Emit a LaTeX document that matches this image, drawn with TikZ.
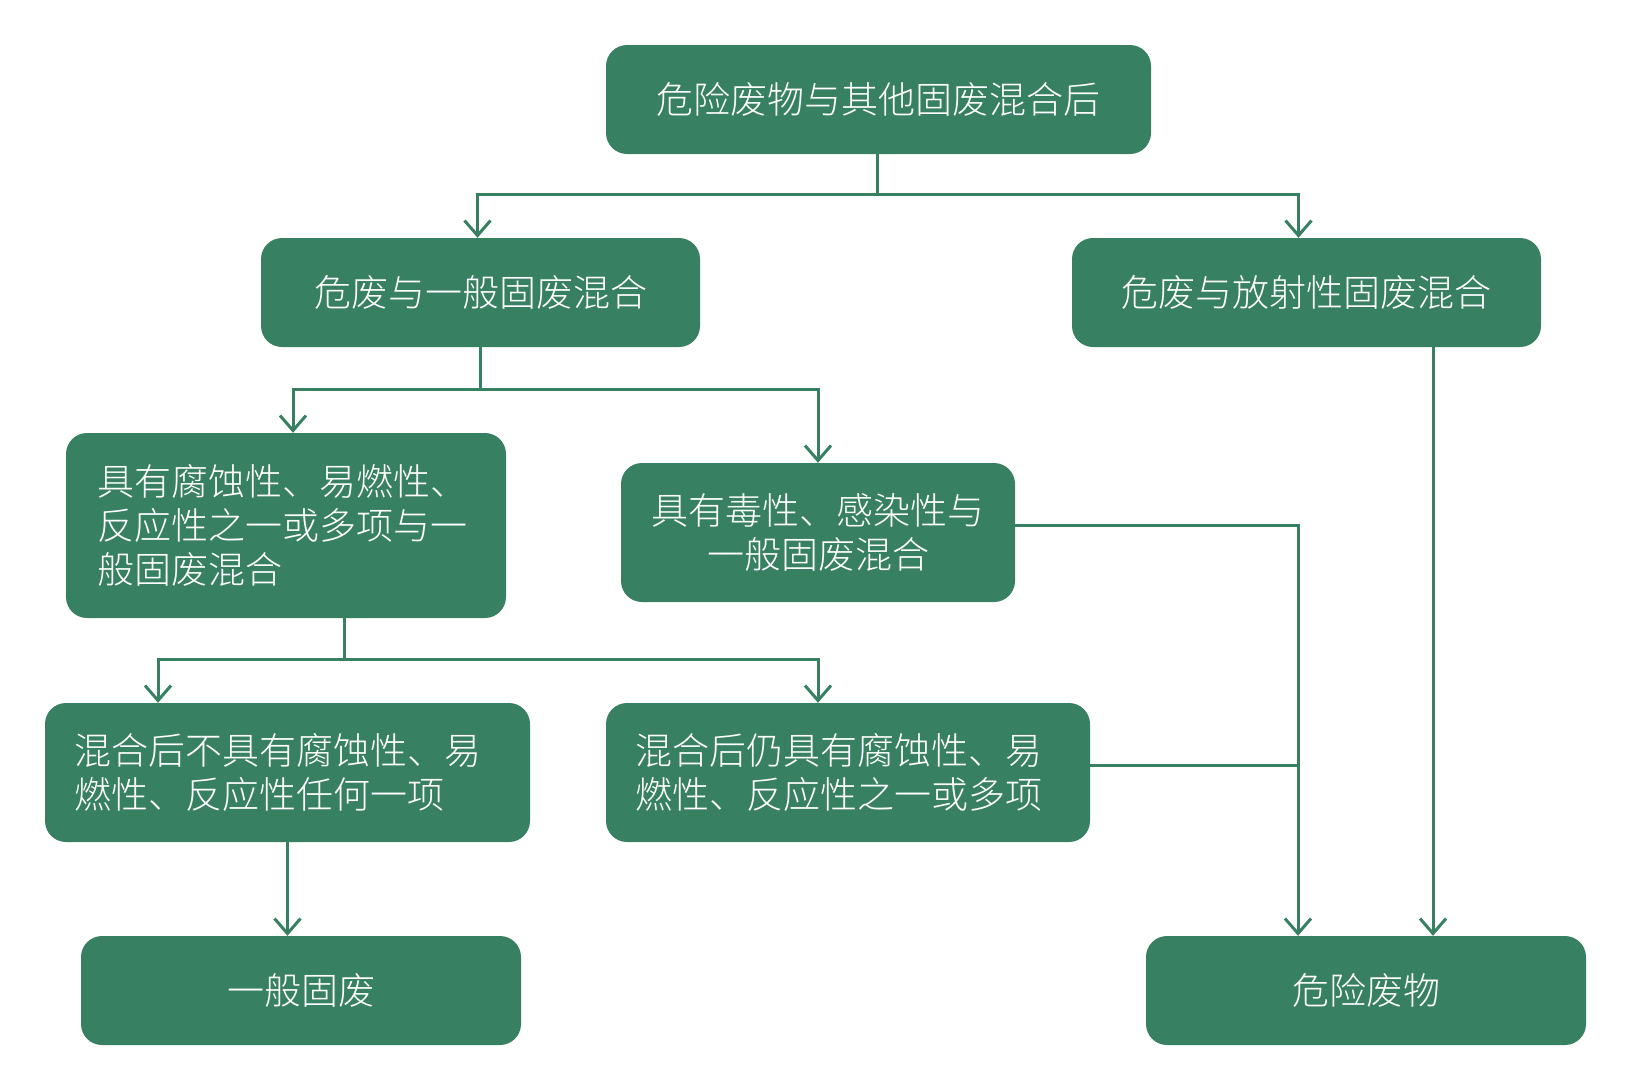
\documentclass[tikz,border=0pt]{standalone}
\usepackage{fontspec}
\setmainfont{Noto Sans CJK SC}[UprightFont={* Light}]
\usetikzlibrary{arrows.meta,calc}
\definecolor{boxgreen}{RGB}{56,128,98}
\tikzset{
  box/.style={fill=boxgreen, rounded corners=21pt, text=white, inner ysep=0pt,
    font=\fontsize{37pt}{44pt}\selectfont, anchor=center},
  cbox/.style={box, align=center},
  lbox/.style={box, align=left},
  conn/.style={draw=boxgreen, line width=3pt},
  arr/.style={conn, -{Straight Barb[length=15pt,width=26pt,line width=3pt]}}
}
\begin{document}
\begin{tikzpicture}[x=1pt,y=-1pt]
\useasboundingbox (0,0) rectangle (1636,1080);
% boxes
\node[cbox, minimum width=545pt, minimum height=109pt] (b1) at (878.5,99.5) {危险废物与其他固废混合后};
\node[cbox, minimum width=439pt, minimum height=109pt] (b2) at (480.5,292.5) {危废与一般固废混合};
\node[cbox, minimum width=469pt, minimum height=109pt] (b3) at (1306.5,292.5) {危废与放射性固废混合};
\node[lbox, inner xsep=31pt, text width=378pt, minimum height=185pt] (b4) at (286,525.5) {具有腐蚀性、易燃性、\\反应性之一或多项与一\\般固废混合};
\node[cbox, minimum width=394pt, minimum height=139pt] (b5) at (818,532.5) {具有毒性、感染性与\\一般固废混合};
\node[lbox, inner xsep=29pt, text width=427pt, minimum height=139pt] (b6) at (287.5,772.5) {混合后不具有腐蚀性、易\\燃性、反应性任何一项};
\node[lbox, inner xsep=29pt, text width=426pt, minimum height=139pt] (b7) at (848,772.5) {混合后仍具有腐蚀性、易\\燃性、反应性之一或多项};
\node[cbox, minimum width=440pt, minimum height=109pt] (b8) at (301,990.5) {一般固废};
\node[cbox, minimum width=440pt, minimum height=109pt] (b9) at (1366,990.5) {危险废物};
% junctions
\coordinate (j1) at ($(b1.south)+(-1,40)$);
\coordinate (j2) at ($(b2.south)+(0,42)$);
\coordinate (j3) at ($(b4.south)+(58,41)$);
\coordinate (t9a) at ([xshift=-68pt]b9.north);
\coordinate (t9b) at ([xshift=67pt]b9.north);
% connectors
\draw[conn] (j1 |- b1.south) -- (j1);
\draw[arr] (j1) -| ([xshift=-3pt]b2.north);
\draw[arr] (j1) -| ([xshift=-8pt]b3.north);
\draw[conn] (b2.south) -- (j2);
\draw[arr] (j2) -| ([xshift=7pt]b4.north);
\draw[arr] (j2) -| (b5.north);
\draw[conn] (j3 |- b4.south) -- (j3);
\draw[arr] (j3) -| ([xshift=-129.5pt]b6.north);
\draw[arr] (j3) -| ([xshift=-30pt]b7.north);
\draw[arr] (b6.south) -- (b6.south |- b8.north);
\draw[arr] ([yshift=7.5pt]b5.east) -| (t9a);
\draw[conn] ([yshift=7.5pt]b7.east) -- ([yshift=7.5pt]b7.east -| t9a);
\draw[arr] (t9b |- b3.south) -- (t9b);
\end{tikzpicture}
\end{document}
